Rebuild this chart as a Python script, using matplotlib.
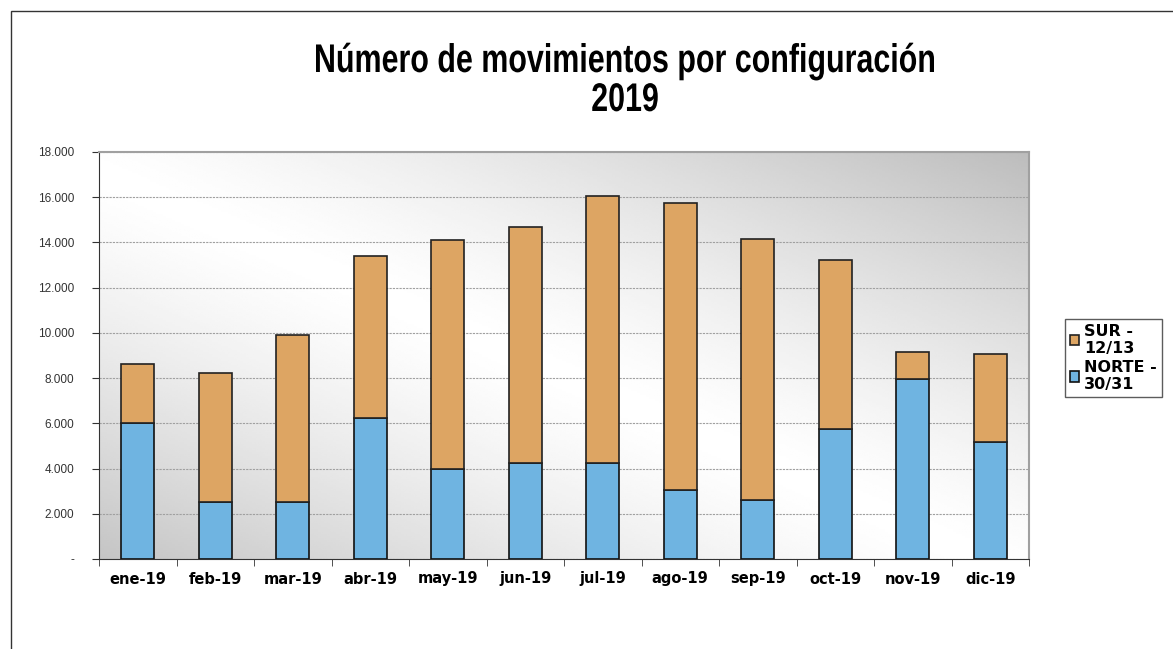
import numpy as np
import matplotlib
matplotlib.use('Agg')
import matplotlib.pyplot as plt
from matplotlib.patches import Rectangle, PathPatch
from matplotlib.textpath import TextPath
from matplotlib.font_manager import FontProperties
from matplotlib.transforms import Affine2D
from matplotlib.ticker import FuncFormatter, MultipleLocator

# %% Data

meses = ['ene-19', 'feb-19', 'mar-19', 'abr-19', 'may-19', 'jun-19',
         'jul-19', 'ago-19', 'sep-19', 'oct-19', 'nov-19', 'dic-19']
norte = [6000, 2520, 2510, 6250, 3980, 4250, 4250, 3050, 2610, 5750, 7950, 5160]
total = [8610, 8240, 9890, 13400, 14120, 14700, 16050, 15760, 14150, 13240, 9140, 9080]
sur = [t - n for t, n in zip(total, norte)]

titulo = ['Número de movimientos por configuración', '2019']

color_sur = '#DDA563'
color_norte = '#6FB4E1'

# %% Figure

W, H = 1173, 649
fig = plt.figure(figsize=(W / 100, H / 100), dpi=100)
fig.patches.append(Rectangle((11 / W, -0.01), 1.0, 1 - 11 / H + 0.01,
                             transform=fig.transFigure, fill=False,
                             edgecolor='#333333', linewidth=1.0))

# pixel-space overlay used for the condensed title
ov = fig.add_axes([0, 0, 1, 1], zorder=5)
ov.set_xlim(0, W)
ov.set_ylim(H, 0)
ov.axis('off')

prop = FontProperties(family='Liberation Sans', weight='bold')
sx = 618 / TextPath((0, 0), titulo[0], size=40, prop=prop).get_extents().width
# (centre x, baseline y) in pixels
for line, (cx, base) in zip(titulo, [(625, 72), (625, 111)]):
    tp = TextPath((0, 0), line, size=40, prop=prop)
    ext = tp.get_extents()
    tr = Affine2D().translate(-(ext.x0 + ext.width / 2), 0).scale(sx, -1.0).translate(cx, base)
    ov.add_patch(PathPatch(tr.transform_path(tp), facecolor='black', edgecolor='none'))

ax = fig.add_axes([99 / W, 1 - 559 / H, 930 / W, 407 / H])

# diagonal grey gradient background
u, v = np.meshgrid(np.linspace(0, 1, 300), np.linspace(1, 0, 200))
t = np.abs((u + v) - 0.95)
shade = 1.0 - 0.245 * t ** 1.3
ax.imshow(shade, cmap='gray', vmin=0, vmax=1, extent=[-0.5, 11.5, 0, 18000],
          aspect='auto', zorder=0, interpolation='bilinear')

x = np.arange(len(meses))
w = 0.43
ax.bar(x, norte, w, color=color_norte, edgecolor='#111111', linewidth=1.2,
       label='NORTE -\n30/31', zorder=3)
ax.bar(x, sur, w, bottom=norte, color=color_sur, edgecolor='#222222',
       linewidth=1.2, label='SUR -\n12/13', zorder=3)

ax.set_xlim(-0.5, 11.5)
ax.set_ylim(0, 18000)
ax.yaxis.set_major_locator(MultipleLocator(2000))
ax.yaxis.set_major_formatter(FuncFormatter(
    lambda val, pos: '-' if val == 0 else f'{int(val):,}'.replace(',', '.')))
ax.grid(axis='y', color='#a0a0a0', linestyle=(0, (2, 1)), linewidth=0.8, zorder=1)

ax.set_xticks(x)
ax.set_xticklabels(meses, fontsize=10.5, fontweight='bold', family='DejaVu Sans')
ax.set_xticks(np.arange(-0.5, 12, 1), minor=True)
ax.tick_params(axis='x', which='major', length=0, pad=9)
ax.tick_params(axis='x', which='minor', length=5, color='#333333')
ax.tick_params(axis='y', labelsize=8.5, length=5, color='#333333', pad=13)
for lab in ax.get_yticklabels():
    lab.set_family('Liberation Sans')
    lab.set_color('#333333')

for side in ['top', 'right']:
    ax.spines[side].set_color('#a0a0a0')
    ax.spines[side].set_linewidth(1.5)
ax.spines['left'].set_color('#333333')
ax.spines['bottom'].set_color('#333333')

handles, labels = ax.get_legend_handles_labels()
leg = fig.legend(handles[::-1], labels[::-1], loc='center left',
                 bbox_to_anchor=(1065 / W, 1 - 358 / H),
                 prop={'family': 'DejaVu Sans', 'weight': 'bold', 'size': 11.5},
                 frameon=True, fancybox=False, edgecolor='#333333',
                 handlelength=0.6, handleheight=0.6, handletextpad=0.3,
                 borderpad=0.3, labelspacing=0.25, borderaxespad=0)
leg.get_frame().set_linewidth(1.0)

fig.savefig('out.png', dpi=100)
